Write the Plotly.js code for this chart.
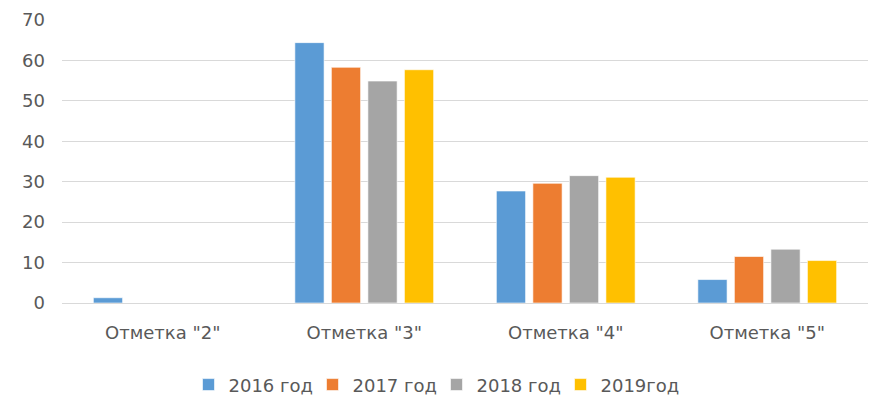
<!DOCTYPE html>
<html>
<head>
<meta charset="utf-8">
<script src="https://cdn.plot.ly/plotly-3.0.1.min.js"></script>
<style>
  html, body { margin: 0; padding: 0; background: #fff; }
  #chart { width: 873px; height: 403px; }
</style>
</head>
<body>
<div id="chart"></div>
<script>
var categories = ["Отметка \"2\"", "Отметка \"3\"", "Отметка \"4\"", "Отметка \"5\""];
var seriesNames = ["2016 год", "2017 год", "2018 год", "2019год"];
var values2016 = [1.3, 64.4, 27.7, 5.8];
var values2017 = [0, 58.3, 29.6, 11.5];
var values2018 = [0, 54.9, 31.5, 13.3];
var values2019 = [0, 57.7, 31.1, 10.5];
var colors = ["#5b9bd5", "#ed7d31", "#a5a5a5", "#ffc000"];

var allValues = [values2016, values2017, values2018, values2019];
var data = allValues.map(function (vals, i) {
    return {
        type: "bar",
        name: seriesNames[i],
        x: categories,
        y: vals,
        marker: {color: colors[i], line: {color: "rgba(255,255,255,0.6)", width: 1}},
        hoverinfo: "y"
    };
});

var textColor = "#595959";

var layout = {
    width: 873,
    height: 403,
    margin: {l: 62, r: 5, t: 20, b: 100},
    paper_bgcolor: "#ffffff",
    plot_bgcolor: "#ffffff",
    font: {family: "DejaVu Sans", color: textColor, size: 17},
    barmode: "group",
    bargap: 0.275,
    bargroupgap: 0.2,
    showlegend: true,
    legend: {
        orientation: "h",
        xref: "container",
        yref: "container",
        x: 0.5,
        xanchor: "center",
        y: 0.045,
        yanchor: "middle",
        font: {size: 18, color: textColor},
        entrywidth: 79,
        entrywidthmode: "pixels",
        itemwidth: 30,
        traceorder: "normal"
    },
    xaxis: {
        type: "category",
        showgrid: false,
        showline: true,
        linecolor: "#d9d9d9",
        linewidth: 1,
        zeroline: false,
        ticks: "",
        ticklabelstandoff: 13,
        tickfont: {size: 18, color: textColor},
        fixedrange: true
    },
    yaxis: {
        range: [0, 70],
        dtick: 10,
        showgrid: true,
        gridcolor: "#d9d9d9",
        gridwidth: 1,
        zeroline: true,
        zerolinecolor: "#d9d9d9",
        showline: false,
        ticks: "",
        ticklabelstandoff: 16,
        tickfont: {size: 18, color: textColor},
        fixedrange: true
    }
};

Plotly.newPlot("chart", data, layout, {displayModeBar: false, staticPlot: true});
</script>
</body>
</html>
